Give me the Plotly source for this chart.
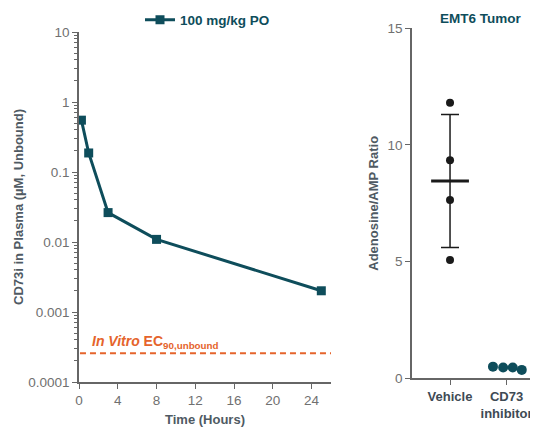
import plotly.graph_objects as go

# ---- Data: PK profile (left panel) ----
time_h = [0.25, 1, 3, 8, 25]
conc_unbound_uM = [0.55, 0.187, 0.0263, 0.0109, 0.00201]
pk_series_name = "100 mg/kg PO"
ec90_unbound_uM = 0.000257
ec90_span_h = [0.1, 26]

y_tickvals = [0.0001, 0.001, 0.01, 0.1, 1, 10]
y_ticktext = ["0.0001", "0.001", "0.01", "0.1", "1", "10"]
x_tickvals = [0, 4, 8, 12, 16, 20, 24]

# ---- Data: EMT6 tumor adenosine/AMP ratio (right panel) ----
groups = ["Vehicle", "CD73<br>inhibitor"]
vehicle_values = [11.81, 9.34, 7.64, 5.07]
vehicle_mean = 8.46
vehicle_sd = 2.85
inhibitor_values = [0.50, 0.46, 0.46, 0.36]
inhibitor_jitter = [-0.24, -0.06, 0.11, 0.27]

TEAL = "#0e4d5b"
ORANGE = "#e5642c"
TICKC = "#707070"
TITLEC = "#4f5a63"
AXC = "#666666"
BLACK = "#1a1a1a"
FONT = "Liberation Sans, Arial, sans-serif"

# page is 538x427; the figure div sits 8px in from the top-left (body margin)
OFF = 8
W, H = 538 - OFF, 427 - OFF

def px_x(p):
    return (p - OFF) / W

def px_y(p):
    return 1 - (p - OFF) / H

fig = go.Figure()

# PK curve
fig.add_trace(go.Scatter(
    x=time_h, y=conc_unbound_uM, mode="lines+markers", name=pk_series_name,
    line=dict(color=TEAL, width=3),
    marker=dict(symbol="square", size=9, color=TEAL),
    xaxis="x", yaxis="y", showlegend=True,
))
# EC90 dashed reference line
fig.add_trace(go.Scatter(
    x=ec90_span_h, y=[ec90_unbound_uM] * len(ec90_span_h), mode="lines",
    line=dict(color=ORANGE, width=2, dash="6px,4px"),
    xaxis="x", yaxis="y", showlegend=False, hoverinfo="skip",
))

# Vehicle points
fig.add_trace(go.Scatter(
    x=[0] * len(vehicle_values), y=vehicle_values, mode="markers",
    marker=dict(symbol="circle", size=8, color=BLACK),
    xaxis="x2", yaxis="y2", showlegend=False,
))
# Vehicle mean line
fig.add_trace(go.Scatter(
    x=[0], y=[vehicle_mean], mode="markers",
    marker=dict(symbol="line-ew", size=27, color=BLACK, line=dict(color=BLACK, width=3)),
    xaxis="x2", yaxis="y2", showlegend=False,
))
# Vehicle SD error bars
fig.add_trace(go.Scatter(
    x=[0], y=[vehicle_mean], mode="markers",
    marker=dict(size=1, color="rgba(0,0,0,0)"),
    error_y=dict(type="data", array=[vehicle_sd], visible=True,
                 color=BLACK, thickness=1.5, width=9),
    xaxis="x2", yaxis="y2", showlegend=False,
))
# Inhibitor points
fig.add_trace(go.Scatter(
    x=[1 + j for j in inhibitor_jitter], y=inhibitor_values, mode="markers",
    marker=dict(symbol="circle", size=10, color=TEAL),
    xaxis="x2", yaxis="y2", showlegend=False,
))

minor_vals = [m * 10 ** e for e in range(-4, 1) for m in range(2, 10)]

tickfont = dict(family=FONT, size=13.5, color=TICKC)
titlefont = dict(family=FONT, size=13, color=TITLEC, weight="bold")

common = dict(showline=True, linecolor=AXC, linewidth=1.5, showgrid=False,
              zeroline=False, automargin=False, ticks="outside", ticklen=5,
              tickwidth=1.2, tickcolor=AXC)

fig.update_layout(
    width=W, height=H, autosize=False,
    margin=dict(l=0, r=0, t=0, b=0, autoexpand=False),
    paper_bgcolor="white", plot_bgcolor="white",
    font=dict(family=FONT),
    xaxis=dict(
        domain=[px_x(79), px_x(331)], range=[0, 26],
        tickvals=x_tickvals, tickfont=tickfont, anchor="y",
        title=dict(text="Time (Hours)", font=titlefont, standoff=9),
        **common,
    ),
    yaxis=dict(
        domain=[px_y(382), px_y(32)], type="log", range=[-4, 1],
        tickvals=y_tickvals, ticktext=y_ticktext,
        minor=dict(tickvals=minor_vals, ticks="outside", ticklen=3, tickcolor=AXC, tickwidth=1),
        tickfont=tickfont, anchor="x",
        title=dict(text="CD73i in Plasma (µM, Unbound)", font=titlefont, standoff=2),
        **common,
    ),
    xaxis2=dict(
        domain=[px_x(412), 1.0], range=[-0.673, 1.557],
        tickvals=[0, 1], ticktext=groups,
        tickfont=dict(family=FONT, size=13, color="#3e4a54", weight="bold"), anchor="y2",
        **common,
    ),
    yaxis2=dict(
        domain=[px_y(378.3), px_y(28.3)], range=[0, 15],
        tickvals=[0, 5, 10, 15], tickfont=tickfont, anchor="x2",
        title=dict(text="Adenosine/AMP Ratio", font=titlefont, standoff=6),
        **common,
    ),
    legend=dict(
        x=px_x(140), y=px_y(20), xanchor="left", yanchor="middle",
        font=dict(family=FONT, size=13.5, color=TEAL, weight="bold"),
        bgcolor="rgba(0,0,0,0)", itemwidth=30,
    ),
    annotations=[
        dict(text="EMT6 Tumor", x=px_x(480), y=px_y(18), xref="paper", yref="paper",
             xanchor="center", yanchor="middle", showarrow=False,
             font=dict(family=FONT, size=13.5, color=TEAL, weight="bold")),
        dict(text="<i>In Vitro</i> EC<sub>90,unbound</sub>", x=1.1, y=-3.59,
             xref="x", yref="y", xanchor="left", yanchor="bottom", showarrow=False,
             font=dict(family=FONT, size=14, color=ORANGE, weight="bold")),
    ],
)

fig.write_html("out.html")
